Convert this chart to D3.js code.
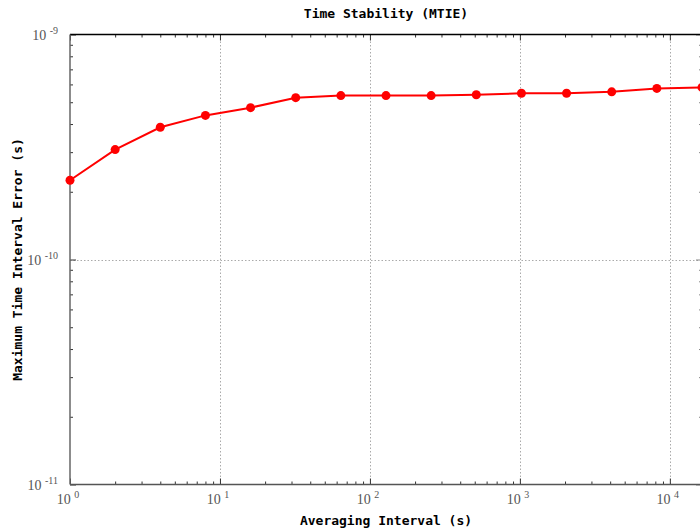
<!DOCTYPE html>
<html>
<head>
<meta charset="utf-8">
<script src="https://cdn.jsdelivr.net/npm/d3@7"></script>
<style>
  body { margin: 0; background: #fff; }
  .title, .axlabel { font-family: "DejaVu Sans Mono", monospace; font-weight: bold; font-size: 13px; fill: #000; }
  .ticklab { font-family: "Liberation Serif", "DejaVu Serif", serif; font-size: 14px; fill: #555; }
</style>
</head>
<body>
<script>
// averaging interval (s) and MTIE (s)
var tau = [1, 2, 4, 8, 16, 32, 64, 128, 256, 512, 1024, 2048, 4096, 8192, 16384];
var mtie = [2.25e-10, 3.08e-10, 3.87e-10, 4.37e-10, 4.73e-10, 5.24e-10, 5.35e-10, 5.35e-10,
            5.35e-10, 5.40e-10, 5.48e-10, 5.48e-10, 5.56e-10, 5.76e-10, 5.82e-10];
var xTickExps = [0, 1, 2, 3, 4];
var yTickExps = [-11, -10, -9];

var width = 700, height = 530;
var margin = {top: 34.5, bottom: 45.5, left: 70, right: -2};

var svg = d3.select("body")
            .append("svg")
            .attr("width", width)
            .attr("height", height);

var xScale = d3.scaleLog()
               .domain([1, 16384])
               .range([margin.left, width - margin.right]);

var yScale = d3.scaleLog()
               .domain([1e-11, 1e-9])
               .range([height - margin.bottom, margin.top]);

var x0 = xScale.range()[0], x1 = xScale.range()[1];
var y0 = yScale.range()[0], y1 = yScale.range()[1];

// minor + major tick positions
var xMinor = [], yMinor = [];
xTickExps.forEach(function(e){
  for (var m = 2; m <= 9; m++) { var v = m * Math.pow(10, e); if (v <= 16384) xMinor.push(v); }
});
[-11, -10].forEach(function(e){
  for (var m = 2; m <= 9; m++) yMinor.push(m * Math.pow(10, e));
});
var xMajor = xTickExps.map(function(e){ return Math.pow(10, e); });
var yMajor = yTickExps.map(function(e){ return Math.pow(10, e); });

//Grid
svg.append("g").selectAll("line")
   .data(xMajor.slice(1))
   .enter().append("line")
   .attr("x1", function(d){ return Math.round(xScale(d)) + 0.5; })
   .attr("x2", function(d){ return Math.round(xScale(d)) + 0.5; })
   .attr("y1", y1).attr("y2", y0)
   .attr("stroke", "#aaa").attr("stroke-dasharray", "1.5,2");

svg.append("g").selectAll("line")
   .data([1e-10])
   .enter().append("line")
   .attr("y1", function(d){ return Math.round(yScale(d)) + 0.5; })
   .attr("y2", function(d){ return Math.round(yScale(d)) + 0.5; })
   .attr("x1", x0).attr("x2", x1)
   .attr("stroke", "#aaa").attr("stroke-dasharray", "1.5,2");

//Axes (ticks pointing inward)
function tickAxis(gen, vals, size, transform, color) {
  var g = svg.append("g")
     .attr("transform", transform)
     .call(gen.tickValues(vals).tickSize(size).tickFormat(""));
  g.select(".domain").remove();
  g.selectAll("line").attr("stroke", color);
  return g;
}
tickAxis(d3.axisBottom(xScale), xMinor, -3, "translate(0," + y0 + ")", "#333");
tickAxis(d3.axisBottom(xScale), xMajor, -6, "translate(0," + y0 + ")", "#333");
tickAxis(d3.axisTop(xScale), xMinor, -3, "translate(0," + y1 + ")", "#333");
tickAxis(d3.axisTop(xScale), xMajor, -6, "translate(0," + y1 + ")", "#333");
tickAxis(d3.axisLeft(yScale), yMinor, -3, "translate(" + x0 + ",0)", "#333");
tickAxis(d3.axisLeft(yScale), yMajor, -6, "translate(" + x0 + ",0)", "#333");
tickAxis(d3.axisRight(yScale), yMinor, -3, "translate(" + x1 + ",0)", "#888");
tickAxis(d3.axisRight(yScale), yMajor, -6, "translate(" + x1 + ",0)", "#888");

// frame lines
svg.append("line").attr("x1", x0).attr("x2", x1).attr("y1", y1).attr("y2", y1)
   .attr("stroke", "#000").attr("stroke-width", 1.5);
svg.append("line").attr("x1", x0).attr("x2", x1).attr("y1", y0).attr("y2", y0)
   .attr("stroke", "#555").attr("stroke-width", 1.5);
svg.append("line").attr("x1", x0).attr("x2", x0).attr("y1", y1).attr("y2", y0)
   .attr("stroke", "#666").attr("stroke-width", 1.5);

//Tick labels
var xl = svg.append("g").selectAll("text")
   .data(xTickExps)
   .enter().append("text")
   .attr("class", "ticklab")
   .attr("x", function(d){ return xScale(Math.pow(10, d)) - 2; })
   .attr("y", y0 + 19)
   .attr("text-anchor", "middle");
xl.append("tspan").text("10 ");
xl.append("tspan").attr("dy", -6).attr("font-size", "10px").text(function(d){ return d; });

var yl = svg.append("g").selectAll("text")
   .data(yTickExps)
   .enter().append("text")
   .attr("class", "ticklab")
   .attr("x", x0 - 12)
   .attr("y", function(d){ return yScale(Math.pow(10, d)) + 5; })
   .attr("text-anchor", "end");
yl.append("tspan").text("10 ");
yl.append("tspan").attr("dy", -6).attr("font-size", "10px").text(function(d){ return d; });

//Titles
svg.append("text").attr("class", "title")
   .attr("x", (x0 + x1) / 2).attr("y", 18)
   .attr("text-anchor", "middle")
   .text("Time Stability (MTIE)");

svg.append("text").attr("class", "axlabel")
   .attr("x", (x0 + x1) / 2).attr("y", 525)
   .attr("text-anchor", "middle")
   .text("Averaging Interval (s)");

svg.append("text").attr("class", "axlabel")
   .attr("transform", "translate(22," + ((y0 + y1) / 2) + ") rotate(-90)")
   .attr("text-anchor", "middle")
   .text("Maximum Time Interval Error (s)");

//Series
var line = d3.line()
   .x(function(d, i){ return xScale(tau[i]); })
   .y(function(d){ return yScale(d); });

svg.append("path")
   .datum(mtie)
   .attr("d", line)
   .attr("fill", "none")
   .attr("stroke", "#ff0000")
   .attr("stroke-width", 2);

svg.append("g").selectAll("circle")
   .data(mtie)
   .enter().append("circle")
   .attr("cx", function(d, i){ return xScale(tau[i]); })
   .attr("cy", function(d){ return yScale(d); })
   .attr("r", 4.5)
   .attr("fill", "#ff0000");
</script>
</body>
</html>
